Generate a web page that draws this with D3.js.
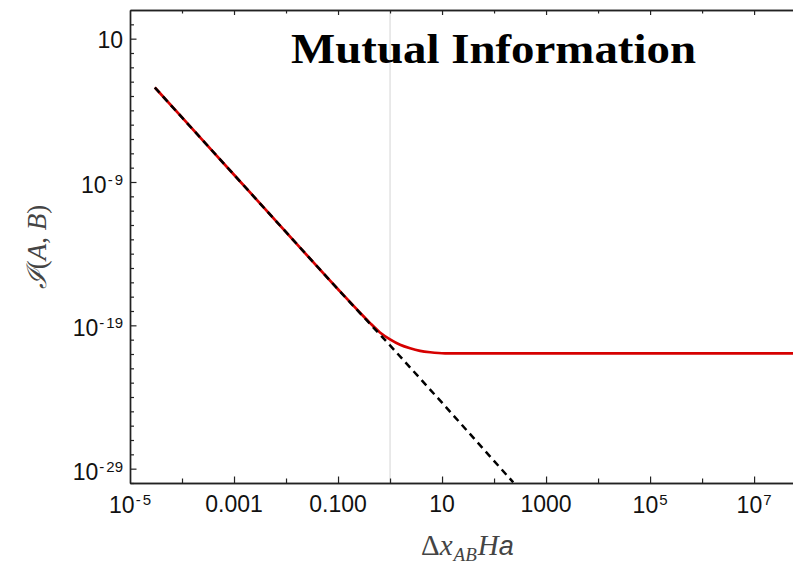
<!DOCTYPE html>
<html>
<head>
<meta charset="utf-8">
<script src="https://cdn.jsdelivr.net/npm/d3@7"></script>
<style>
  html, body { margin: 0; padding: 0; background: #fff; }
  svg { display: block; }
</style>
</head>
<body>
<svg id="chart" width="793" height="564"></svg>
<script>
// ---------- data ----------
const xMajorTicks = [1e-5, 1e-3, 1e-1, 10, 1e3, 1e5, 1e7];
const xMajorLabels = ["10^-5", "0.001", "0.100", "10", "1000", "10^5", "10^7"];
const xMinorTicks = [1e-4, 1e-2, 1, 100, 1e4, 1e6];
const yMajorTicks = [10, 1e-9, 1e-19, 1e-29];
const yMajorLabels = ["10", "10^-9", "10^-19", "10^-29"];
const yMinorTicks = [1e2, 1, 1e-1, 1e-2, 1e-3, 1e-4, 1e-5, 1e-6, 1e-7, 1e-8,
  1e-10, 1e-11, 1e-12, 1e-13, 1e-14, 1e-15, 1e-16, 1e-17, 1e-18,
  1e-20, 1e-21, 1e-22, 1e-23, 1e-24, 1e-25, 1e-26, 1e-27, 1e-28, 1e-30];
const refLineX = [1];

// red curve: mutual information
const redX = [3.0e-5, 1e-4, 1e-3, 1e-2, 0.1, 0.265, 0.41, 0.64, 1.0, 1.56, 2.43, 3.78, 5.9, 11.4, 1e3, 5.6e7];
const redY = [3.9e-3, 3.2e-5, 3.2e-9, 3.2e-13, 3.3e-17, 7.6e-19, 1.48e-19, 3.2e-20, 1.05e-20, 4.4e-21, 2.5e-21, 1.66e-21, 1.32e-21, 1.12e-21, 1.12e-21, 1.12e-21];
// black dashed: asymptotic power law
const dashX = [3.0e-5, 1e-3, 0.1, 1, 10, 234];
const dashY = [3.9e-3, 3.2e-9, 3.2e-17, 4.0e-21, 4.0e-25, 1.1e-30];

// ---------- layout ----------
const svg = d3.select("#chart");
const L = 130, R = 793, T = 10, B = 483;
const x = d3.scaleLog().domain([1e-5, 5.6e7]).range([L, R]);
const y = d3.scaleLog().domain([1e-30, 1e3]).range([B, T]);
const axisColor = "#222";
const tickFont = "'Liberation Sans', Arial, sans-serif";

svg.append("defs").append("clipPath").attr("id", "plotclip")
  .append("rect").attr("x", L).attr("y", T).attr("width", R - L).attr("height", B - T);

// reference vertical line
svg.append("g").selectAll("line").data(refLineX).join("line")
  .attr("x1", d => x(d)).attr("x2", d => x(d))
  .attr("y1", T).attr("y2", B)
  .attr("stroke", "#d4d4d4").attr("stroke-width", 1);

// curves
const red = redX.map((d, i) => [d, redY[i]]);
const dash = dashX.map((d, i) => [d, dashY[i]]);
const line = d3.line().x(d => x(d[0])).y(d => y(d[1])).curve(d3.curveMonotoneX);
const curves = svg.append("g").attr("clip-path", "url(#plotclip)");
curves.append("path").attr("d", line(red))
  .attr("fill", "none").attr("stroke", "#d60000").attr("stroke-width", 2.7);
curves.append("path").attr("d", d3.line().x(d => x(d[0])).y(d => y(d[1]))(dash))
  .attr("fill", "none").attr("stroke", "#000").attr("stroke-width", 2.5)
  .attr("stroke-dasharray", "7,5");

// axes
function styleAxis(g) {
  g.selectAll("path.domain").attr("stroke", axisColor).attr("stroke-width", 1.4);
  g.selectAll(".tick line").attr("stroke", axisColor).attr("stroke-width", 1.2);
  g.selectAll(".tick text").remove();
}
svg.append("g").attr("transform", `translate(0,${B})`)
  .call(d3.axisBottom(x).tickValues(xMajorTicks.slice(1)).tickSize(-6.5).tickSizeOuter(0).tickFormat(""))
  .call(styleAxis);
svg.append("g").attr("transform", `translate(0,${B})`)
  .call(d3.axisBottom(x).tickValues(xMinorTicks).tickSize(-4.5).tickSizeOuter(0).tickFormat(""))
  .call(styleAxis);
svg.append("g").attr("transform", `translate(0,${T})`)
  .call(d3.axisTop(x).tickValues(xMajorTicks.slice(1)).tickSize(-5).tickSizeOuter(0).tickFormat(""))
  .call(styleAxis);
svg.append("g").attr("transform", `translate(0,${T})`)
  .call(d3.axisTop(x).tickValues(xMinorTicks).tickSize(-3.5).tickSizeOuter(0).tickFormat(""))
  .call(styleAxis);
svg.append("g").attr("transform", `translate(${L},0)`)
  .call(d3.axisLeft(y).tickValues(yMajorTicks).tickSize(-6.5).tickSizeOuter(0).tickFormat(""))
  .call(styleAxis);
svg.append("g").attr("transform", `translate(${L},0)`)
  .call(d3.axisLeft(y).tickValues(yMinorTicks).tickSize(-4).tickSizeOuter(0).tickFormat(""))
  .call(styleAxis);

// tick labels with superscripts
function writeLabel(t, label) {
  const parts = label.split("^");
  t.append("tspan").text(parts[0]);
  if (parts.length > 1) {
    const e = parts[1];
    if (e[0] === "-") {
      t.append("tspan").attr("font-size", 15).attr("dy", -8).attr("dx", 1).text("-");
      t.append("tspan").attr("font-size", 15).attr("dx", 2).text(e.slice(1));
    } else {
      t.append("tspan").attr("font-size", 15).attr("dy", -8).attr("dx", 1).text(e);
    }
  }
}
svg.append("g").selectAll("text").data(xMajorTicks).join("text")
  .attr("x", d => x(d)).attr("y", (d, i) => xMajorLabels[i].includes("^") ? 513 : 512)
  .attr("text-anchor", "middle").attr("font-family", tickFont).attr("font-size", 23)
  .attr("fill", "#111")
  .each(function (d, i) { writeLabel(d3.select(this), xMajorLabels[i]); });
svg.append("g").selectAll("text").data(yMajorTicks).join("text")
  .attr("x", L - 7).attr("y", (d, i) => y(d) + (yMajorLabels[i].includes("^") ? 11 : 9))
  .attr("text-anchor", "end").attr("font-family", tickFont).attr("font-size", 23)
  .attr("fill", "#111")
  .each(function (d, i) { writeLabel(d3.select(this), yMajorLabels[i]); });

// title
svg.append("text").attr("x", 291).attr("y", 63)
  .attr("font-family", "'Liberation Serif', 'Times New Roman', serif")
  .attr("font-weight", "bold").attr("font-size", 43)
  .attr("textLength", 405).attr("lengthAdjust", "spacingAndGlyphs")
  .attr("fill", "#000").text("Mutual Information");

// axis titles
const serif = "'Liberation Serif', 'DejaVu Serif', serif";
const xl = svg.append("text").attr("x", 421).attr("y", 555)
  .attr("font-family", serif).attr("font-size", 29).attr("fill", "#444");
xl.append("tspan").text("Δ");
xl.append("tspan").attr("font-style", "italic").text("x");
xl.append("tspan").attr("font-style", "italic").attr("font-size", 19).attr("dy", 6).attr("dx", 1).text("AB");
xl.append("tspan").attr("font-style", "italic").attr("dy", -6).attr("dx", 1).text("H");
xl.append("tspan").attr("font-family", tickFont).attr("font-style", "italic").attr("font-size", 27).text("a");

const yl = svg.append("text").attr("transform", "translate(46,247) rotate(-90)")
  .attr("text-anchor", "middle").attr("font-family", serif).attr("font-size", 27).attr("fill", "#444");
yl.append("tspan").attr("font-style", "italic").text("ℐ");
yl.append("tspan").text("(");
yl.append("tspan").attr("font-style", "italic").text("A");
yl.append("tspan").text(", ");
yl.append("tspan").attr("font-style", "italic").text("B");
yl.append("tspan").text(")");
</script>
</body>
</html>
